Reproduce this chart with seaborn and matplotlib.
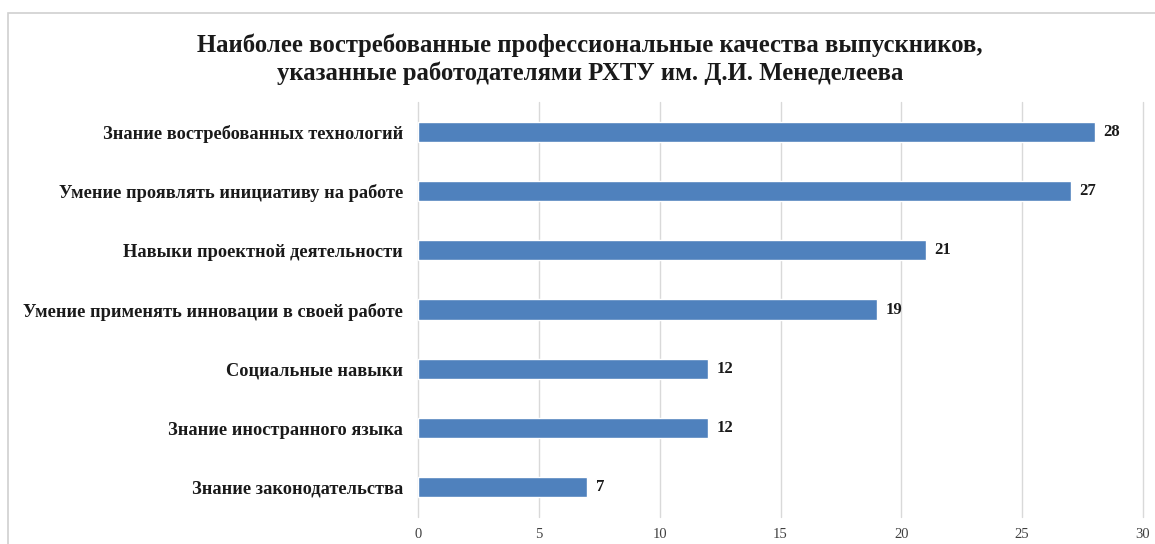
import matplotlib
matplotlib.use("Agg")
import matplotlib.pyplot as plt
import seaborn as sns
import pandas as pd
from matplotlib.patches import Rectangle

qualities = [
    "Знание востребованных технологий",
    "Умение проявлять инициативу на работе",
    "Навыки проектной деятельности",
    "Умение применять инновации в своей работе",
    "Социальные навыки",
    "Знание иностранного языка",
    "Знание законодательства",
]
counts = [28, 27, 21, 19, 12, 12, 7]
x_ticks = [0, 5, 10, 15, 20, 25, 30]

df = pd.DataFrame({"quality": qualities, "count": counts})

sns.set_theme(style="white")
plt.rcParams["font.family"] = ["Liberation Serif", "DejaVu Serif"]

fig = plt.figure(figsize=(11.55, 5.44), dpi=100)
ax = fig.add_axes([0.362, 0.0496, 0.9896 - 0.362, 0.8125 - 0.0496])

sns.barplot(data=df, y="quality", x="count", orient="h", color="#4F81BD",
            width=0.34, saturation=1, ax=ax, zorder=3)

ax.set_xlim(0, 30)
ax.set_ylim(6.5, -0.5)
ax.set_xticks(x_ticks)
ax.set_xticklabels([str(t) for t in x_ticks], fontsize=10.5, color="#404040")
ax.tick_params(axis="x", length=0, pad=8)
ax.tick_params(axis="y", length=0, pad=11)
for lbl in ax.get_yticklabels():
    lbl.set_fontweight("bold")
    lbl.set_fontsize(13.2)
    lbl.set_color("#1a1a1a")
ax.set_xlabel("")
ax.set_ylabel("")
ax.grid(axis="x", color="#d9d9d9", linewidth=1, zorder=0)
for gl in ax.get_xgridlines():
    gl.set_clip_on(False)
for s in ax.spines.values():
    s.set_visible(False)

for i, v in enumerate(counts):
    ax.text(v + 0.35, i, str(v), va="center", ha="left", fontsize=12,
            fontweight="bold", color="#1a1a1a")

fig.text(0.511, 0.891, "Наиболее востребованные профессиональные качества выпускников,\n"
         "указанные работодателями РХТУ им. Д.И. Менеделеева",
         ha="center", va="center", fontsize=17.8, fontweight="bold",
         color="#1a1a1a", linespacing=1.25)

fig.patches.append(Rectangle((8 / 1155, -0.01), 1.2, 1 - 13 / 544 + 0.01,
                             transform=fig.transFigure, fill=False,
                             edgecolor="#d0d0d0", linewidth=1.2))

fig.savefig("out.png", dpi=100, facecolor="white")
